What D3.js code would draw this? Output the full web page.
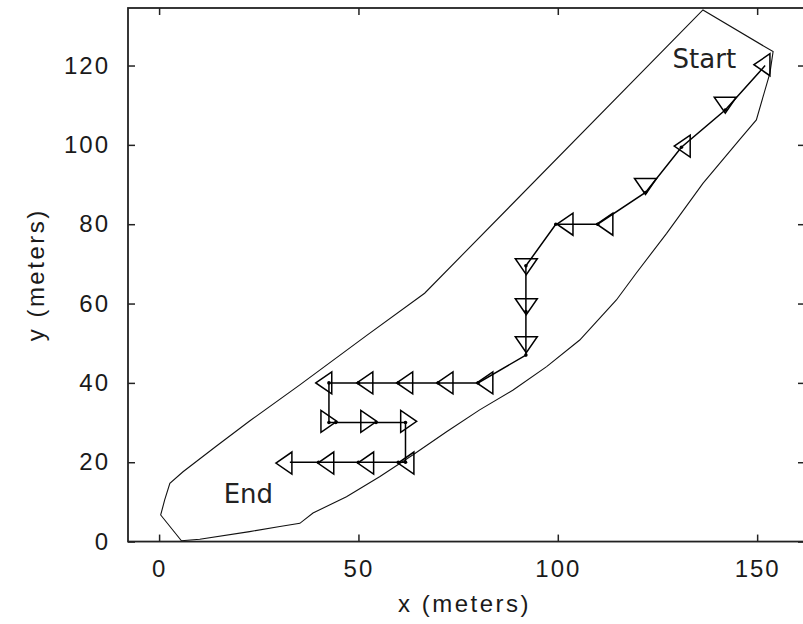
<!DOCTYPE html>
<html><head><meta charset="utf-8">
<script src="https://cdn.jsdelivr.net/npm/d3@7"></script>
<style>
html,body{margin:0;padding:0;background:#fff;}
svg{display:block;}
.tick text{font-family:"Liberation Sans",Arial,sans-serif;font-size:24px;letter-spacing:2px;fill:#1a1a1a;}
</style></head>
<body>
<svg id="c" width="803" height="624"></svg>
<script>
// ---- data ----
const xTicks = [0, 50, 100, 150];
const yTicks = [0, 20, 40, 60, 80, 100, 120];
const xDomain = [-7.8, 162];
const yDomain = [0, 134.5];

// boundary polygon (meters)
const boundX = [5.6, 10.2, 22.7, 30.3, 35.3, 38.6, 47.0, 55.4, 63.7, 72.1, 80.4, 88.8, 97.2, 105.5, 114.7, 119.7, 127.3, 136.4, 145.6, 149.8, 153.2, 154.0, 136.4, 66.6, 52.0, 35.3, 22.7, 14.4, 6.0, 2.7, 1.4, 0.4];
const boundY = [0.2, 0.6, 2.5, 3.8, 4.6, 7.2, 11.3, 16.4, 21.9, 27.7, 33.2, 38.2, 44.1, 50.8, 60.9, 67.7, 77.7, 90.3, 101.3, 106.3, 118.1, 123.5, 134.0, 62.6, 51.9, 39.5, 30.4, 24.1, 17.6, 14.7, 10.5, 6.7];

// travelled path (meters)
const pathX = [152, 142, 131, 122, 110, 99.5, 92, 92, 92, 80, 70, 60, 50, 42.6, 42.6, 44.3, 54.4, 61.8, 61.8, 60, 50, 40, 32.8];
const pathY = [120, 108.8, 99.4, 88, 80, 80, 69.5, 58, 47, 40, 40, 40, 40, 40, 30, 30, 30, 30, 20, 20, 20, 20, 20];

// pose markers (meters) and heading
const markX = [151.2, 142, 131.2, 122, 111.8, 101.8, 92.1, 92.1, 92.1, 81.7, 71.7, 61.6, 51.6, 41.3, 42.6, 52.6, 62.6, 61.9, 51.8, 41.8, 31.3];
const markY = [120.2, 110, 99.7, 89.5, 80, 80, 69.3, 59.2, 49.6, 40, 40, 40, 40, 40, 30.3, 30.3, 30.3, 19.8, 19.8, 19.8, 19.8];
const markDir = ["L","D","L","D","L","L","D","D","D","L","L","L","L","L","R","R","R","L","L","L","L"];

// annotations
const labelText = ["Start", "End"];
const labelX = [128.8, 16.2];
const labelY = [119.4, 9.7];

// ---- drawing ----
const svg = d3.select("#c");
const L = 128, T = 8;
const x = d3.scaleLinear().domain(xDomain).range([L, L + (xDomain[1]-xDomain[0])*3.987]);
const y = d3.scaleLinear().domain(yDomain).range([T + (yDomain[1]-yDomain[0])*3.967, T]);
const B = y(0), R = x(xDomain[1]);

// boundary
const bpts = boundX.map((v,i)=>[x(v), y(boundY[i])]);
svg.append("path").attr("d", d3.line().curve(d3.curveLinearClosed)(bpts))
  .attr("fill","none").attr("stroke","#111").attr("stroke-width",1.1);

// path
const ppts = pathX.map((v,i)=>[x(v), y(pathY[i])]);
svg.append("path").attr("d", d3.line()(ppts))
  .attr("fill","none").attr("stroke","#000").attr("stroke-width",1.5);
svg.selectAll("circle.dot").data(ppts.slice(1,-1)).join("circle")
  .attr("cx",d=>d[0]).attr("cy",d=>d[1]).attr("r",1.8).attr("fill","#000");

// markers
const h = 16, b = 22;
function tri(cx, cy, dir){
  if(dir==="L") return `M${cx-h/2},${cy}L${cx+h/2},${cy-b/2}L${cx+h/2},${cy+b/2}Z`;
  if(dir==="R") return `M${cx+h/2},${cy}L${cx-h/2},${cy-b/2}L${cx-h/2},${cy+b/2}Z`;
  if(dir==="D") return `M${cx},${cy+h/2}L${cx-b/2},${cy-h/2}L${cx+b/2},${cy-h/2}Z`;
  return `M${cx},${cy-h/2}L${cx-b/2},${cy+h/2}L${cx+b/2},${cy+h/2}Z`;
}
svg.selectAll("path.mk").data(markX.map((v,i)=>({x:v,y:markY[i],d:markDir[i]}))).join("path")
  .attr("class","mk").attr("d",d=>tri(x(d.x), y(d.y), d.d))
  .attr("fill","none").attr("stroke","#000").attr("stroke-width",1.5).attr("stroke-linejoin","miter");

// labels
svg.selectAll("text.lbl").data(labelText).join("text")
  .attr("x",(d,i)=>x(labelX[i])).attr("y",(d,i)=>y(labelY[i]))
  .attr("font-family","'DejaVu Sans',sans-serif").attr("font-size",26).attr("fill","#222").text(d=>d);

// axes
const ax = svg.append("g");
ax.append("g").attr("transform",`translate(0,${B})`)
  .call(d3.axisBottom(x).tickValues(xTicks).tickSizeInner(-7).tickSizeOuter(0).tickPadding(18).tickFormat(d3.format("d")))
  .call(g=>g.select(".domain").remove());
ax.append("g").attr("transform",`translate(0,${T})`)
  .call(d3.axisTop(x).tickValues(xTicks).tickSizeInner(-7).tickSizeOuter(0).tickFormat(""))
  .call(g=>g.select(".domain").remove());
ax.append("g").attr("transform",`translate(${L},0)`)
  .call(d3.axisLeft(y).tickValues(yTicks).tickSizeInner(-7).tickSizeOuter(0).tickPadding(18).tickFormat(d3.format("d")))
  .call(g=>g.select(".domain").remove());
ax.append("g").attr("transform",`translate(${R},0)`)
  .call(d3.axisRight(y).tickValues(yTicks).tickSizeInner(-7).tickSizeOuter(0).tickFormat(""))
  .call(g=>g.select(".domain").remove());
ax.selectAll(".tick line").attr("stroke","#222").attr("stroke-width",1.5);
svg.append("rect").attr("x",L).attr("y",T).attr("width",R-L).attr("height",B-T)
  .attr("fill","none").attr("stroke","#222").attr("stroke-width",1.8);

// axis titles
svg.append("text").attr("x",(L+R)/2 - 2).attr("y",612).attr("text-anchor","middle")
  .attr("font-family","'Liberation Sans',Arial,sans-serif").attr("font-size",24).attr("letter-spacing","2.5px").attr("fill","#1a1a1a").text("x (meters)");
svg.append("text").attr("transform",`translate(44,${(T+B)/2}) rotate(-90)`).attr("text-anchor","middle")
  .attr("font-family","'Liberation Sans',Arial,sans-serif").attr("font-size",24).attr("letter-spacing","2.5px").attr("fill","#1a1a1a").text("y (meters)");
</script>
</body></html>
